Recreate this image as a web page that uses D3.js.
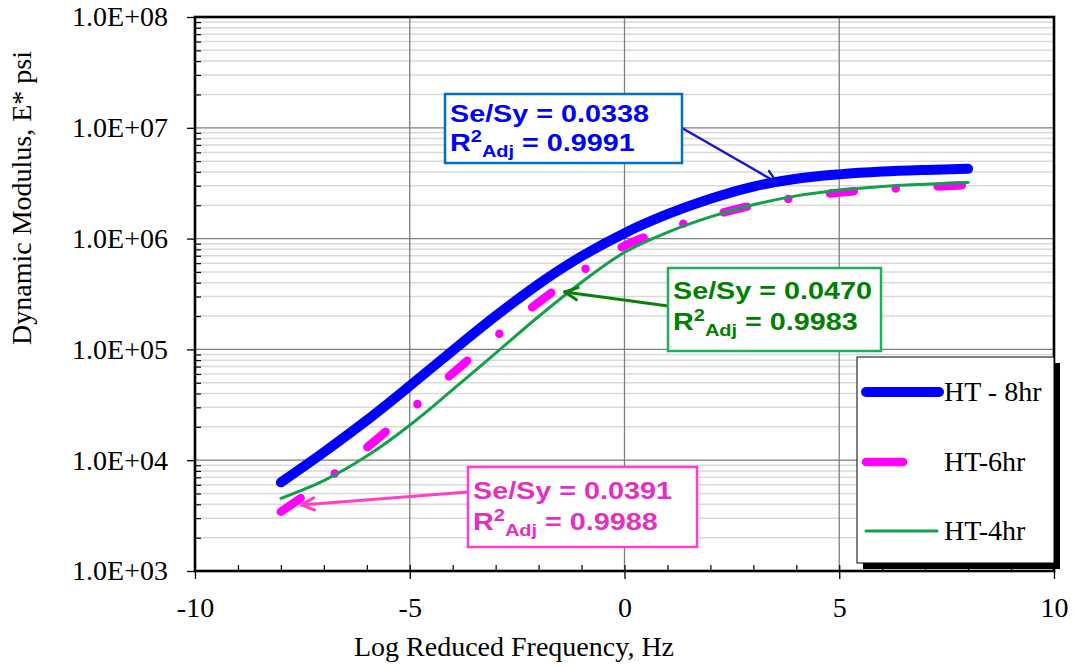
<!DOCTYPE html>
<html>
<head>
<meta charset="utf-8">
<script src="https://cdn.jsdelivr.net/npm/d3@7"></script>
<style>
  html, body { margin: 0; padding: 0; background: #fff; }
  svg { display: block; }
</style>
</head>
<body>
<svg id="chart" width="1073" height="665"></svg>
<script>
// Log reduced frequency (Hz) at which each master curve is sampled
const freq = [-8, -7, -6, -5, -4, -3, -2, -1, 0, 1, 2, 3, 4, 5, 6, 7, 8];

// Dynamic modulus |E*| (psi) for each aging condition
const ht8 = [6.31e3, 1.18e4, 2.29e4, 4.68e4, 9.77e4, 2.0e5, 3.89e5, 6.92e5, 1.12e6, 1.66e6, 2.29e6, 2.95e6, 3.47e6, 3.8e6, 4.03e6, 4.17e6, 4.27e6];
const ht6 = [3.43e3, 6.38e3, 1.30e4, 2.79e4, 6.1e4, 1.30e5, 2.66e5, 5.07e5, 8.61e5, 1.22e6, 1.60e6, 2.0e6, 2.34e6, 2.60e6, 2.79e6, 2.92e6, 3.05e6];
const ht4 = [4.53e3, 6.55e3, 1.09e4, 2.07e4, 4.33e4, 9.25e4, 1.98e5, 4.04e5, 7.52e5, 1.14e6, 1.57e6, 2.02e6, 2.43e6, 2.73e6, 2.96e6, 3.10e6, 3.21e6];

const seriesNames = ["HT - 8hr", "HT-6hr", "HT-4hr"];

// Goodness-of-fit statistics for each fitted curve
const seSy = ["0.0338", "0.0391", "0.0470"];
const r2Adj = ["0.9991", "0.9988", "0.9983"];

// Axis ticks
const xTicks = [-10, -5, 0, 5, 10];
const xTickLabels = ["-10", "-5", "0", "5", "10"];
const xMinorTicks = d3.range(-10, 11, 1);
const yTicks = [1e3, 1e4, 1e5, 1e6, 1e7, 1e8];
const yTickLabels = ["1.0E+03", "1.0E+04", "1.0E+05", "1.0E+06", "1.0E+07", "1.0E+08"];

const plot = { left: 195, right: 1054, top: 17, bottom: 571 };

const svg = d3.select("#chart");
const x = d3.scaleLinear().domain([-10, 10]).range([plot.left, plot.right]);
const y = d3.scaleLog().domain([1e3, 1e8]).range([plot.bottom, plot.top]);

const serif = "'Liberation Serif', 'Times New Roman', serif";
const sans = "'Liberation Sans', Arial, sans-serif";

// ---- minor horizontal grid (2..9 per decade) ----
const yMinor = [];
for (let d = 3; d < 8; d++) for (let k = 2; k <= 9; k++) yMinor.push(k * Math.pow(10, d));

const grid = svg.append("g");
grid.selectAll("line.minor").data(yMinor).join("line")
  .attr("x1", plot.left).attr("x2", plot.right)
  .attr("y1", d => y(d)).attr("y2", d => y(d))
  .attr("stroke", "#d9d9d9").attr("stroke-width", 1.5);

grid.selectAll("line.hmajor").data(yTicks).join("line")
  .attr("x1", plot.left).attr("x2", plot.right)
  .attr("y1", d => y(d)).attr("y2", d => y(d))
  .attr("stroke", "#7f7f7f").attr("stroke-width", 1.3);

grid.selectAll("line.vmajor").data(xTicks.slice(1, -1)).join("line")
  .attr("x1", d => x(d)).attr("x2", d => x(d))
  .attr("y1", plot.top).attr("y2", plot.bottom)
  .attr("stroke", "#7f7f7f").attr("stroke-width", 1.3);

// ---- axes ----
const yAxis = svg.append("g").attr("transform", `translate(${plot.left},0)`)
  .call(d3.axisLeft(y).tickValues(yTicks).tickSize(8).tickPadding(19)
    .tickFormat((d, i) => yTickLabels[i]));
yAxis.select(".domain").remove();
yAxis.selectAll("line").attr("stroke", "#000").attr("stroke-width", 1.3);
yAxis.selectAll("text").attr("font-family", serif).attr("font-size", 28).attr("fill", "#000");

const yMinorAxis = svg.append("g").attr("transform", `translate(${plot.left},0)`)
  .call(d3.axisRight(y).tickValues(yMinor).tickSize(6).tickFormat(""));
yMinorAxis.select(".domain").remove();
yMinorAxis.selectAll("line").attr("stroke", "#000").attr("stroke-width", 1.2);

const xAxis = svg.append("g").attr("transform", `translate(0,${plot.bottom})`)
  .call(d3.axisBottom(x).tickValues(xTicks).tickSize(8).tickPadding(18)
    .tickFormat((d, i) => xTickLabels[i]));
xAxis.select(".domain").remove();
xAxis.selectAll("line").attr("stroke", "#000").attr("stroke-width", 1.3);
xAxis.selectAll("text").attr("font-family", serif).attr("font-size", 28).attr("fill", "#000");

const xMinorAxis = svg.append("g").attr("transform", `translate(0,${plot.bottom})`)
  .call(d3.axisTop(x).tickValues(xMinorTicks).tickSize(6).tickFormat(""));
xMinorAxis.select(".domain").remove();
xMinorAxis.selectAll("line").attr("stroke", "#000").attr("stroke-width", 1.2);

// ---- axis titles ----
svg.append("text")
  .attr("x", 514).attr("y", 656)
  .attr("text-anchor", "middle")
  .attr("font-family", serif).attr("font-size", 28)
  .text("Log Reduced Frequency, Hz");

svg.append("text")
  .attr("transform", "translate(31,198) rotate(-90)")
  .attr("text-anchor", "middle")
  .attr("font-family", serif).attr("font-size", 28)
  .text("Dynamic Modulus, E* psi");

// ---- series ----
const line = d3.line()
  .x(d => x(d[0])).y(d => y(d[1]))
  .curve(d3.curveCatmullRom.alpha(0.5));

const zip = vals => freq.map((f, i) => [f, vals[i]]);

const series = [
  { name: seriesNames[0], values: ht8, color: "#0000ff", width: 10, dash: null },
  { name: seriesNames[1], values: ht6, color: "#ff00ff", width: 8.5, dash: "24 42 0 42" },
  { name: seriesNames[2], values: ht4, color: "#14a04a", width: 3, dash: null }
];

const marks = svg.append("g");
series.forEach(s => {
  marks.append("path")
    .datum(zip(s.values))
    .attr("d", line)
    .attr("fill", "none")
    .attr("stroke", s.color)
    .attr("stroke-width", s.width)
    .attr("stroke-linecap", "round")
    .attr("stroke-linejoin", "round")
    .attr("stroke-dasharray", s.dash);
});

// ---- plot frame ----
svg.append("rect")
  .attr("x", plot.left).attr("y", plot.top)
  .attr("width", plot.right - plot.left).attr("height", plot.bottom - plot.top)
  .attr("fill", "none").attr("stroke", "#000").attr("stroke-width", 2.6);

// ---- fit-statistic callouts ----
function arrow(g, x1, y1, x2, y2, color, w, head) {
  g.append("line").attr("x1", x1).attr("y1", y1).attr("x2", x2).attr("y2", y2)
    .attr("stroke", color).attr("stroke-width", w).attr("stroke-linecap", "round");
  const a = Math.atan2(y2 - y1, x2 - x1);
  [-0.45, 0.45].forEach(da => {
    g.append("line")
      .attr("x1", x2).attr("y1", y2)
      .attr("x2", x2 - head * Math.cos(a + da)).attr("y2", y2 - head * Math.sin(a + da))
      .attr("stroke", color).attr("stroke-width", w).attr("stroke-linecap", "round");
  });
}

const callouts = [
  { i: 0, box: [445, 94, 237, 69], text: "#0000ff", border: "#0070c0", arrowColor: "#1414d8",
    tail: [682, 128], tip: [3.55, 3.2e6], aw: 2.4, line1: 122, line2: 151 },
  { i: 2, box: [668, 268, 213, 83], text: "#008000", border: "#1fae5a", arrowColor: "#0a800a",
    tail: [668, 306], tip: [-1.39, 3.3e5], aw: 3, line1: 299, line2: 330 },
  { i: 1, box: [468, 467, 229, 80], text: "#e52fc4", border: "#ff3fcf", arrowColor: "#ff3fc8",
    tail: [468, 492], tip: [-7.52, 3.95e3], aw: 3, line1: 499, line2: 530 }
];

const notes = svg.append("g");
callouts.forEach(c => {
  const g = notes.append("g");
  arrow(g, c.tail[0], c.tail[1], x(c.tip[0]), y(c.tip[1]), c.arrowColor, c.aw, 14);
  g.append("rect")
    .attr("x", c.box[0]).attr("y", c.box[1]).attr("width", c.box[2]).attr("height", c.box[3])
    .attr("fill", "#fff").attr("stroke", c.border).attr("stroke-width", 2.5);

  const tx = c.box[0] + 5;
  const t1 = g.append("g").attr("transform", `translate(${tx},${c.line1}) scale(1.25,1)`);
  t1.append("text")
    .attr("font-family", sans).attr("font-weight", "bold").attr("font-size", 23)
    .attr("fill", c.text)
    .text(`Se/Sy = ${seSy[c.i]}`);

  const t2 = g.append("g").attr("transform", `translate(${tx},${c.line2}) scale(1.25,1)`);
  const txt = t2.append("text")
    .attr("font-family", sans).attr("font-weight", "bold").attr("font-size", 23)
    .attr("fill", c.text);
  txt.append("tspan").text("R");
  txt.append("tspan").attr("font-size", 16).attr("dy", -9).text("2");
  txt.append("tspan").attr("font-size", 16).attr("dy", 15).text("Adj");
  txt.append("tspan").attr("dy", -6).text(" = " + r2Adj[c.i]);
});

// ---- legend ----
const legend = svg.append("g");
legend.append("rect").attr("x", 863).attr("y", 363).attr("width", 197).attr("height", 206).attr("fill", "#000");
legend.append("rect").attr("x", 857).attr("y", 357).attr("width", 197).attr("height", 206)
  .attr("fill", "#fff").attr("stroke", "#000").attr("stroke-width", 1);

const legendRows = [
  { s: series[0], y: 392, x2: 939 },
  { s: series[1], y: 462, x2: 903 },
  { s: series[2], y: 531, x2: 937 }
];
legendRows.forEach(r => {
  legend.append("line")
    .attr("x1", 866).attr("x2", r.x2).attr("y1", r.y).attr("y2", r.y)
    .attr("stroke", r.s.color).attr("stroke-width", r.s.width).attr("stroke-linecap", "round");
  legend.append("text")
    .attr("x", 944).attr("y", r.y + 9)
    .attr("font-family", serif).attr("font-size", 28)
    .text(r.s.name);
});
</script>
</body>
</html>
